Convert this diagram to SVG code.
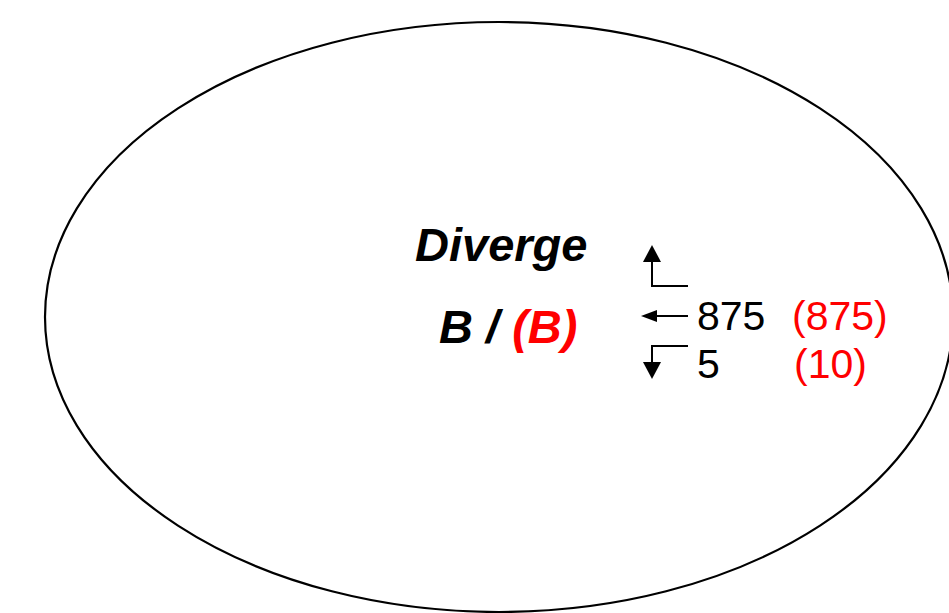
<svg xmlns="http://www.w3.org/2000/svg" width="949" height="613" viewBox="0 0 949 613">
<style>
.t{font-family:"Liberation Sans",Arial,sans-serif}
.bi{font-weight:bold;font-style:italic;font-size:47px}
.n{font-size:41px}
.red{fill:#ff0000}
.ln{stroke:#000;stroke-width:2;fill:none}
</style>
<rect width="949" height="613" fill="#fff"/>
<g id="ellipse">
<ellipse cx="499" cy="317" rx="454" ry="295" fill="none" stroke="#000" stroke-width="2.2"/>
</g>
<g id="labels">
<text class="t bi" x="415" y="261">Diverge</text>
<text class="t bi" x="439" y="343">B / <tspan class="red">(B)</tspan></text>
</g>
<g id="connectors">
<path class="ln" d="M688,286 H652 V262"/>
<path d="M643,262 L652,245 L661,262 z" fill="#000"/>
<path class="ln" d="M688,316 H657"/>
<path d="M657,310 L641,316 L657,322 z" fill="#000"/>
<path class="ln" d="M688,346 H652 V362"/>
<path d="M643,362 L652,379 L661,362 z" fill="#000"/>
</g>
<g id="values">
<text class="t n" x="697" y="330">875</text>
<text class="t n red" x="792" y="330">(875)</text>
<text class="t n" x="697" y="378">5</text>
<text class="t n red" x="794" y="378">(10)</text>
</g>
</svg>
